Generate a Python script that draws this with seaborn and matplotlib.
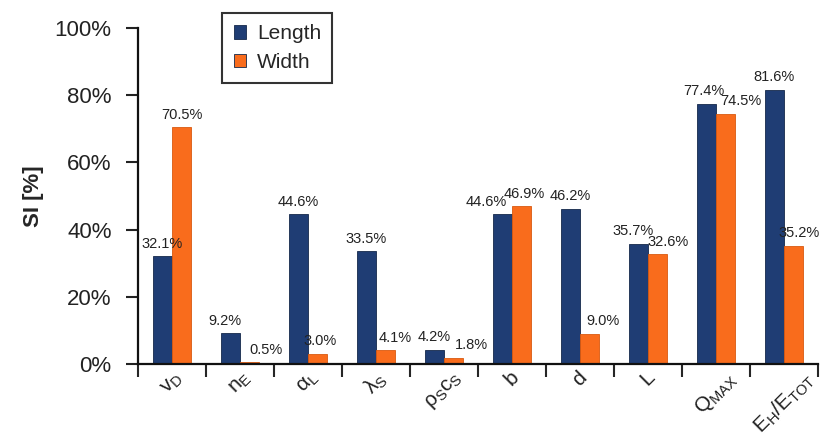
import numpy as np
import pandas as pd
import matplotlib
matplotlib.use('Agg')
import matplotlib.pyplot as plt
import seaborn as sns
from matplotlib.ticker import PercentFormatter

# parameter labels (mathtext for subscripts)
params = [r'$\mathregular{v_D}$', r'$\mathregular{n_E}$', r'$\mathregular{α_L}$',
          r'$\mathregular{λ_S}$', r'$\mathregular{ρ_Sc_S}$', r'$\mathregular{b}$',
          r'$\mathregular{d}$', r'$\mathregular{L}$', r'$\mathregular{Q_{MAX}}$',
          r'$\mathregular{E_H/E_{TOT}}$']
length_si = [32.1, 9.2, 44.6, 33.5, 4.2, 44.6, 46.2, 35.7, 77.4, 81.6]
width_si = [70.5, 0.5, 3.0, 4.1, 1.8, 46.9, 9.0, 32.6, 74.5, 35.2]
series = ['Length', 'Width']
colors = ['#1f3d74', '#f96c1c']

# sideways nudge of the value labels (points), to keep them apart
length_dx = [0, -4, 0, 0, 0, -12, 0, -4, -2, 0]
width_dx = [0, 12, 2, 7, 13, 2, 10, 8, 11, 4]

df = pd.DataFrame({
    'param': params * 2,
    'SI': length_si + width_si,
    'series': [series[0]] * len(params) + [series[1]] * len(params),
})

sns.set_style('white')
plt.rcParams['font.family'] = ['Liberation Sans', 'DejaVu Sans']
plt.rcParams['mathtext.fontset'] = 'custom'
plt.rcParams['mathtext.rm'] = 'Liberation Sans'

fig = plt.figure(figsize=(8.32, 4.37), dpi=100)
ax = fig.add_axes([0.166, 0.167, 0.817, 0.769])

sns.barplot(data=df, x='param', y='SI', hue='series', order=params,
            hue_order=series, palette=colors, saturation=1, width=0.56, gap=0,
            edgecolor='#15284a', linewidth=0.6, ax=ax)
for p in ax.containers[1]:
    p.set_edgecolor('#d95a10')

# value labels
for cont, dxs in zip(ax.containers, [length_dx, width_dx]):
    for bar, dx in zip(cont, dxs):
        h = bar.get_height()
        ax.annotate(f'{h:.1f}%', (bar.get_x() + bar.get_width() / 2, h),
                    xytext=(dx, 4), textcoords='offset points',
                    ha='center', va='bottom', fontsize=10.5, color='#222222')

ax.set_ylim(0, 100)
ax.set_xlim(-0.5, len(params) - 0.5)
ax.yaxis.set_major_formatter(PercentFormatter(100, decimals=0))
ax.set_yticks(np.arange(0, 101, 20))
ax.tick_params(axis='y', labelsize=16, length=9, width=1.5, direction='out',
               left=True, pad=10, colors='#222222')
ax.set_xticks(np.arange(-0.5, len(params), 1), minor=True)
ax.tick_params(axis='x', which='major', length=0, labelsize=15, pad=3,
               labelrotation=45, colors='#222222')
ax.tick_params(axis='x', which='minor', length=9, width=1.5, direction='out',
               bottom=True)
for lab in ax.get_xticklabels():
    lab.set_ha('center')

ax.set_xlabel('')
ax.set_ylabel('SI [%]', fontsize=16, fontweight='bold', labelpad=8)
sns.despine(ax=ax)
for s in ['left', 'bottom']:
    ax.spines[s].set_linewidth(1.6)
    ax.spines[s].set_color('#111111')

leg = ax.legend(loc='upper left', bbox_to_anchor=(0.124, 1.045), fontsize=15,
                frameon=True, fancybox=False, edgecolor='black',
                handlelength=0.6, handleheight=0.6, handletextpad=0.5,
                borderpad=0.55, labelspacing=0.45, borderaxespad=0)
leg.get_frame().set_linewidth(1.5)

fig.savefig('out.png', dpi=100, facecolor='white')
